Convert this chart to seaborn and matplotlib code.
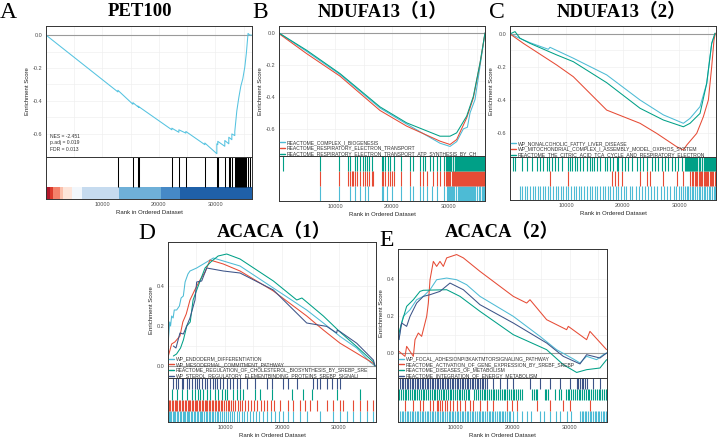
import pandas as pd
import matplotlib
matplotlib.use("Agg")
import matplotlib.pyplot as plt
import seaborn as sns

N_GENES = 36500

# ---------------- A: PET100 ----------------
a_rank = [0, 12740, 12740, 15400, 15400, 16280, 16280, 16460, 16460, 22300, 22300,
          23540, 23540, 24780, 24780, 28140, 28140, 30270, 30270, 30440, 30440,
          31680, 31680, 32390, 32390, 32930, 32930, 33450, 33450, 33810, 34160,
          34520, 34870, 35220, 35500, 35800, 36100, 36400]
a_es = [0.0, -0.345, -0.335, -0.42, -0.41, -0.435, -0.43, -0.44, -0.435, -0.575, -0.565,
        -0.59, -0.575, -0.595, -0.585, -0.665, -0.655, -0.72, -0.66, -0.665, -0.645,
        -0.675, -0.64, -0.66, -0.62, -0.635, -0.6, -0.61, -0.585, -0.46, -0.38,
        -0.31, -0.265, -0.195, -0.11, 0.01, 0.0, 0.0]
a_hits = [12740, 15400, 16280, 16460, 22300, 23540, 24780, 28140, 30270, 30440, 31680,
          32390, 32570, 32930, 33450, 33630, 33810, 33980, 34160, 34340, 34520, 34690,
          34870, 35050, 35220, 35400, 35750, 36110]
a_heat_edges = [0, 710, 1300, 2480, 2950, 4550, 6320, 12990, 20380, 23740, 36500]
a_heat_colors = ["#B2182B", "#DC3B2C", "#F4826B", "#FBC0AC", "#FDE5DA", "#F2F7FC",
                 "#C6DBEF", "#6FB0D8", "#4689C6", "#1F60A8"]
a_stats = "NES = -2.451\np.adj = 0.019\nFDR = 0.013"

# ---------------- B: NDUFA13 (1) ----------------
b_sets = ["REACTOME_COMPLEX_I_BIOGENESIS",
          "REACTOME_RESPIRATORY_ELECTRON_TRANSPORT",
          "REACTOME_RESPIRATORY_ELECTRON_TRANSPORT_ATP_SYNTHESIS_BY_CH"]
b1_rank = [0, 4900, 10810, 17900, 22620, 28530, 30300, 31480, 32670, 33380, 33850, 34730, 35620, 36500]
b1_es = [0.0, -0.115, -0.26, -0.47, -0.57, -0.69, -0.71, -0.68, -0.60, -0.59, -0.50, -0.417, -0.208, 0.0]
b2_rank = [0, 4900, 10810, 17900, 22620, 28530, 30300, 31480, 33260, 34440, 35620, 36500]
b2_es = [-0.004, -0.129, -0.27, -0.485, -0.583, -0.677, -0.698, -0.667, -0.531, -0.406, -0.19, 0.0]
b3_rank = [0, 4900, 10810, 17900, 22620, 28530, 30300, 31480, 33260, 34440, 35620, 36500]
b3_es = [0.0, -0.108, -0.254, -0.4625, -0.5625, -0.646, -0.646, -0.625, -0.52, -0.396, -0.1875, 0.0]
b1_hits = [7270, 10570, 12580, 13470, 14350, 15240, 15830, 18190, 18490, 19080, 19970, 21620,
           23210, 23690, 24990, 25460, 26170, 27060, 27940, 29240, 29700, 29900, 30100, 30300,
           30450, 30700, 30850, 31050, 31300, 31450, 31650, 31850, 32000, 32200, 32400, 32550,
           32800, 32950, 33150, 33350, 33500, 33700, 33900, 34050, 34250, 34450, 34600, 34800,
           35000, 35150, 35350, 35550, 35700, 35900, 36100, 36300]
b2_hits = [7270, 10570, 12290, 12580, 12880, 13170, 13470, 13880, 14350, 14820, 15180, 15530,
           16010, 16420, 16720, 18190, 18490, 18840, 19260, 19670, 19970, 20380, 21620, 23210,
           24990, 25460, 26170, 27350, 27940, 28530, 29240, 29650, 29850, 30000, 30200, 30350,
           30600, 30800, 30950, 31150, 31300, 31500, 31700, 31850, 32050, 32250, 32400, 32600,
           32750, 32950, 33100, 33300, 33450, 33650, 33800, 34000, 34150, 34350, 34500, 34700,
           34850, 35050, 35250, 35400, 35600, 35800, 35950, 36150, 36350]
b3_hits = [650, 7270, 10570, 12290, 12580, 13470, 13880, 14350, 14820, 15180, 15530, 16010,
           16420, 18190, 18490, 18840, 19260, 19670, 20380, 21620, 23210, 23810, 24990, 25460,
           25870, 26760, 27350, 27940, 28530, 29240, 29600, 29750, 29900, 30050, 30250, 30400,
           30550, 30750, 30900, 31100, 31250, 31400, 31600, 31800, 31950, 32100, 32300, 32450,
           32650, 32800, 33000, 33150, 33300, 33500, 33700, 33850, 34000, 34200, 34350, 34550,
           34700, 34900, 35050, 35200, 35400, 35600, 35750, 35900, 36100, 36300]

# ---------------- C: NDUFA13 (2) ----------------
c_sets = ["WP_NONALCOHOLIC_FATTY_LIVER_DISEASE",
          "WP_MITOCHONDRIAL_COMPLEX_I_ASSEMBLY_MODEL_OXPHOS_SYSTEM",
          "REACTOME_THE_CITRIC_ACID_TCA_CYCLE_AND_RESPIRATORY_ELECTRON"]
c1_rank = [0, 2360, 3540, 6790, 7090, 11220, 17130, 23040, 27170, 30720, 31900, 33670, 34850, 35740, 36330]
c1_es = [0.0, -0.036, -0.053, -0.093, -0.081, -0.147, -0.248, -0.40, -0.49, -0.541, -0.511, -0.44, -0.30, -0.057, 0.004]
c2_rank = [0, 2360, 8270, 11220, 17130, 20080, 23040, 25990, 29540, 30720, 31310, 33080, 34260,
           35150, 35740, 36150, 36390]
c2_es = [0.0, -0.057, -0.188, -0.259, -0.461, -0.501, -0.541, -0.602, -0.683, -0.703, -0.673, -0.602,
         -0.501, -0.40, -0.198, -0.036, 0.004]
c3_rank = [0, 890, 1770, 3540, 8270, 11220, 17130, 23040, 27170, 30720, 31900, 33670, 34850, 35740, 36330]
c3_es = [0.0, 0.014, -0.026, -0.057, -0.127, -0.168, -0.295, -0.45, -0.521, -0.562, -0.541, -0.481, -0.30, -0.057, 0.004]
c1_hits = [1770, 2200, 2660, 3100, 3540, 4000, 4370, 4900, 5300, 5800, 6200, 6700, 7150, 7600,
           8100, 8500, 9000, 9400, 9900, 10300, 10800, 11300, 11700, 12200, 12600, 13100, 13600,
           14100, 14500, 15000, 15400, 15900, 16400, 16900, 17300, 17800, 18200, 18700, 19200,
           19700, 20200, 20600, 21200, 21700, 22300, 22800, 23300, 23900, 24500, 25000, 25600,
           26100, 26700, 27300, 27900, 28400, 29000, 29500, 29900, 30300, 30700, 31000, 31300,
           31600, 31900, 32200, 32500, 32800, 33100, 33400, 33700, 34000, 34300, 34600, 34900,
           35200, 35500, 35800, 36100, 36300]
c2_hits = [7090, 10340, 18020, 18610, 19200, 19790, 23040, 24220, 24810, 27170, 29540, 30720,
           31900, 32200, 32450, 32700, 32950, 33150, 33400, 33600, 33850, 34050, 34300, 34500,
           34700, 34950, 35150, 35400, 35600, 35800, 36050, 36250]
c3_hits = [470, 890, 2070, 2950, 3840, 4730, 5320, 5910, 6620, 6970, 7380, 7970, 8570, 9160,
           10340, 10630, 10930, 11520, 11930, 12400, 12990, 13580, 14180, 14470, 14890, 15360,
           15950, 16830, 17250, 17720, 18310, 18900, 19200, 19790, 20380, 20970, 21560, 22450,
           23040, 23630, 24220, 25110, 25700, 26290, 26880, 27470, 28060, 28650, 29240, 29830,
           30420, 31000, 31200, 31400, 31550, 31750, 31950, 32100, 32300, 32500, 32650, 32850,
           33000, 33200, 33400, 33550, 33750, 33950, 34100, 34300, 34500, 34650, 34850, 35000,
           35200, 35400, 35550, 35750, 35950, 36100, 36300]

# ---------------- D: ACACA (1) ----------------
d_sets = ["WP_ENDODERM_DIFFERENTIATION",
          "WP_MESODERMAL_COMMITMENT_PATHWAY",
          "REACTOME_REGULATION_OF_CHOLESTEROL_BIOSYNTHESIS_BY_SREBP_SRE",
          "WP_STEROL_REGULATORY_ELEMENTBINDING_PROTEINS_SREBP_SIGNALI"]
d1_rank = [60, 300, 450, 640, 900, 1100, 1520, 2000, 2300, 2690, 3000, 3500, 3860, 5030, 6790,
           7960, 9710, 12640, 18490, 24340, 27260, 30190, 33110, 35450, 36330]
d1_es = [0.13, 0.22, 0.20, 0.25, 0.24, 0.28, 0.28, 0.30, 0.34, 0.35, 0.42, 0.46, 0.475, 0.49, 0.52,
         0.54, 0.525, 0.50, 0.39, 0.28, 0.215, 0.148, 0.09, 0.02, 0.0]
d2_rank = [60, 640, 1200, 2100, 2600, 3200, 3860, 4700, 5620, 6500, 7370, 9710, 12640, 18490,
           24340, 27260, 30190, 33110, 36040, 36330]
d2_es = [0.05, 0.11, 0.12, 0.15, 0.22, 0.26, 0.33, 0.38, 0.43, 0.47, 0.53, 0.51, 0.475, 0.375,
         0.25, 0.18, 0.114, 0.064, 0.013, 0.0]
d3_rank = [940, 1500, 2200, 2700, 3300, 3900, 4400, 5300, 6500, 7500, 8800, 10300, 12640, 18490,
           22600, 23500, 27260, 30190, 33110, 36040, 36330]
d3_es = [0.05, 0.06, 0.09, 0.13, 0.20, 0.22, 0.33, 0.40, 0.49, 0.52, 0.55, 0.56, 0.535, 0.425,
         0.33, 0.34, 0.25, 0.17, 0.097, 0.02, 0.0]
d4_rank = [940, 1400, 2100, 2700, 3860, 4740, 5030, 5910, 6790, 9710, 12640, 18490, 24340, 27850,
           29600, 29700, 30190, 33110, 36040, 36330]
d4_es = [0.10, 0.09, 0.165, 0.16, 0.24, 0.33, 0.42, 0.425, 0.49, 0.475, 0.465, 0.38, 0.215, 0.198,
         0.165, 0.18, 0.172, 0.114, 0.03, 0.0]
d1_hits = [100, 330, 580, 820, 1050, 1300, 1560, 1800, 2030, 2280, 2550, 2780, 3020, 3260, 3530,
           3770, 4020, 4260, 4530, 4780, 5030, 5300, 5540, 5800, 6050, 6330, 6600, 6870, 7130,
           7400, 7700, 7980, 8270, 8550, 8850, 9150, 9450, 9800, 10150, 10500, 10880, 11250,
           11650, 12100, 12500, 12950, 13400, 13900, 14400, 14950, 15500, 16050, 16700, 17300,
           18000, 18700, 19400, 20200, 21000, 21900, 23170, 24340, 26680, 29020, 30190, 31360,
           32530, 33700, 34870, 36040]
d2_hits = [150, 420, 640, 930, 1150, 1430, 1640, 1950, 2150, 2420, 2700, 2900, 3180, 3450, 3650,
           3900, 4180, 4400, 4700, 4920, 5150, 5450, 5660, 5900, 6180, 6450, 6640, 6930, 7150,
           7420, 7680, 7900, 8170, 8420, 8700, 8930, 9250, 9530, 9800, 10120, 10450, 10700,
           11050, 11400, 11820, 12230, 12600, 13050, 13500, 14000, 14550, 15020, 15600, 16250,
           16800, 17450, 18000, 18550, 19660, 21120, 22000, 23170, 24040, 24920, 26090, 27850,
           29020, 30190, 30770, 32530, 33700, 34870, 36040]
d3_hits = [640, 1520, 2400, 3280, 4150, 4740, 5320, 5620, 6200, 6790, 7370, 8250, 8830, 9420,
           10000, 10410, 11470, 12050, 12640, 13220, 15270, 16150, 18190, 21700, 23750, 25210,
           29600, 33700]
d4_hits = [940, 1400, 1810, 2400, 2690, 3280, 3740, 4150, 4740, 5030, 5500, 5910, 6490, 6790,
           7370, 7840, 8250, 8660, 9130, 9710, 10300, 10880, 11470, 12050, 12640, 13810, 15270,
           17320, 18190, 20240, 21120, 22580, 25510, 26090, 26680, 27850, 28730, 29600, 30190]

# ---------------- E: ACACA (2) ----------------
e_sets = ["WP_FOCAL_ADHESIONPI3KAKTMTORSIGNALING_PATHWAY",
          "REACTOME_ACTIVATION_OF_GENE_EXPRESSION_BY_SREBF_SREBP",
          "REACTOME_DISEASES_OF_METABOLISM",
          "REACTOME_INTEGRATION_OF_ENERGY_METABOLISM"]
e1_rank = [170, 470, 930, 2100, 3260, 4420, 5590, 6750, 8500, 10240, 11990, 14320, 20140, 24790,
           27700, 30610, 31780, 32940, 34690, 35850, 36430]
e1_es = [0.072, 0.144, 0.198, 0.234, 0.288, 0.306, 0.342, 0.396, 0.405, 0.396, 0.369, 0.306, 0.198,
         0.09, 0.018, -0.032, -0.054, -0.018, -0.036, -0.009, 0.0]
e2_rank = [170, 1220, 1510, 2680, 2970, 3550, 4130, 5010, 5300, 5590, 6170, 6750, 7330, 7920, 8500,
           10240, 11410, 14320, 20140, 22470, 23050, 25960, 29450, 29740, 32940, 33520, 36430]
e2_es = [0.009, -0.018, 0.036, -0.018, 0.072, 0.108, 0.09, 0.198, 0.27, 0.396, 0.495, 0.468, 0.495,
         0.468, 0.514, 0.532, 0.514, 0.441, 0.306, 0.27, 0.288, 0.18, 0.126, 0.144, 0.072, 0.117, 0.018]
e3_rank = [170, 640, 1510, 2680, 3840, 4420, 8500, 10830, 14320, 20140, 25960, 28870, 31200, 32940,
           35270, 36430]
e3_es = [0.108, 0.162, 0.252, 0.288, 0.333, 0.339, 0.342, 0.306, 0.225, 0.099, 0.018, -0.063, -0.105,
         -0.09, -0.081, -0.036]
e4_rank = [170, 640, 1510, 2100, 3260, 4420, 5590, 7330, 9080, 11410, 14320, 20140, 25960, 28870,
           31780, 32940, 35270, 36430]
e4_es = [0.072, 0.162, 0.144, 0.198, 0.27, 0.306, 0.315, 0.333, 0.378, 0.342, 0.261, 0.162, 0.054,
         -0.018, -0.059, -0.009, -0.027, 0.0]
e1_hits = [350, 620, 950, 1210, 1530, 1790, 2120, 2370, 2690, 2950, 3280, 3540, 3860, 4110, 4440,
           4690, 5020, 5310, 5570, 5900, 6160, 6480, 6730, 7060, 7320, 7650, 7900, 8230, 8490,
           8820, 9070, 9400, 9650, 9980, 10230, 10560, 10810, 11150, 11390, 11730, 11980, 12310,
           12560, 12900, 13140, 13480, 13730, 14060, 14310, 14650, 14900, 15230, 15480, 15820,
           16070, 16400, 16650, 16990, 17240, 17570, 17820, 18160, 18410, 18740, 19000, 19330,
           19600, 20140, 20720, 21600, 22500, 23300, 24800, 25500, 26500, 27600, 28300, 29500,
           30300, 31780, 32050, 32330, 32620, 32900, 33190, 33460, 33760, 34030, 34320, 34600,
           34890, 35170, 35460, 35740, 36030, 36300]
e2_hits = [1220, 2680, 3840, 4420, 5590, 6170, 6750, 7040, 7330, 7620, 8210, 8500, 9080, 9660,
           10240, 10830, 11700, 12570, 13150, 14320, 15480, 16650, 18970, 19850, 20720, 24210,
           26540, 28870, 30030, 33520]
e3_hits = [250, 560, 870, 1190, 1480, 1810, 2120, 2430, 2760, 3050, 3390, 3690, 4010, 4300, 4620,
           4950, 5240, 5580, 5870, 6210, 6500, 6830, 7140, 7450, 7790, 8080, 8420, 8700, 9040,
           9330, 9650, 9980, 10270, 10610, 10900, 11230, 11540, 11850, 12190, 12480, 13350, 13690,
           14000, 14300, 14640, 14960, 15270, 15590, 15900, 16230, 16520, 16850, 17160, 17500,
           17790, 18120, 18430, 18740, 19080, 19370, 19700, 20020, 20330, 20670, 20960, 21300,
           21610, 23420, 23730, 24040, 24360, 25600, 25910, 26240, 27400, 28150, 28470, 29300,
           29620, 29940, 30260, 30570, 30900, 31210, 31540, 31840, 32160, 32480, 32800, 33120,
           33430, 33760, 34070, 34390, 34700, 35020, 35340, 35660, 35970, 36290]
e4_hits = [350, 640, 950, 1220, 1510, 1820, 2090, 2380, 2700, 2960, 3270, 3550, 3860, 4120, 4430,
           4700, 5010, 5300, 5580, 5890, 6160, 6470, 6760, 7030, 7340, 7610, 7930, 8200, 8510,
           8780, 9090, 9360, 9670, 9940, 10250, 10530, 10840, 11110, 11420, 11690, 12000, 12280,
           12570, 12860, 13160, 13440, 13750, 14020, 14330, 14600, 14910, 15190, 15480, 16650,
           17810, 18970, 20140, 23050, 24790, 26540, 28290, 30030, 31200, 31490, 31780, 32070,
           32360, 32650, 32940, 34110, 35280]

# npg-like palette used by the figure
C_CYAN, C_RED, C_GREEN, C_NAVY = "#4DBBD5", "#E64B35", "#00A087", "#3C5488"

# ---------------- figure ----------------
sns.set_theme(style="white")
plt.rcParams["font.family"] = ["Liberation Sans", "Noto Sans CJK SC"]
W, H = 719, 438
fig = plt.figure(figsize=(W / 100, H / 100), dpi=100)

TICK_FS, LABEL_FS, LEG_FS = 4.0, 4.3, 3.6
SPINE = "#333333"
CURVE_LW = 0.75


def frac(l, t, r, b):
    return [l / W, 1 - b / H, (r - l) / W, (b - t) / H]


def style_axes(ax):
    for s in ax.spines.values():
        s.set_color(SPINE)
        s.set_linewidth(0.7)
    ax.tick_params(axis="both", labelsize=TICK_FS, colors="#4D4D4D", length=1.5,
                   width=0.5, pad=1, direction="out")


def es_axes(l, t, r, b, ylim, yticks):
    ax = fig.add_axes(frac(l, t, r, b))
    ax.set_xlim(0, N_GENES)
    ax.set_ylim(*ylim)
    ax.set_xticks([10000, 20000, 30000])
    ax.set_xticks([5000, 15000, 25000, 35000], minor=True)
    ax.set_yticks(yticks)
    ax.set_yticks([(yticks[i] + yticks[i + 1]) / 2 for i in range(len(yticks) - 1)], minor=True)
    ax.grid(True, which="both", color="#EDEDED", lw=0.4)
    ax.set_axisbelow(True)
    ax.set_xticklabels([])
    ax.set_yticklabels([f"{v:.1f}" for v in yticks])
    style_axes(ax)
    ax.tick_params(axis="x", which="both", length=0)
    ax.tick_params(axis="y", which="minor", length=0)
    ax.axhline(0, color="#9A9A9A", lw=0.8, zorder=1.5)
    return ax


def set_es_label(ax):
    ax.set_xlabel("")
    ax.set_ylabel("Enrichment Score", fontsize=LABEL_FS, labelpad=2, color="#222222")


def draw_curves(ax, names, ranks, scores, colors):
    frames = [pd.DataFrame({"rank": r, "es": e, "set": n}) for n, r, e in zip(names, ranks, scores)]
    df = pd.concat(frames, ignore_index=True)
    sns.lineplot(data=df, x="rank", y="es", hue="set", hue_order=names,
                 palette=dict(zip(names, colors)), estimator=None, sort=False,
                 lw=CURVE_LW, ax=ax, legend=True)
    handles, labels = ax.get_legend_handles_labels()
    leg = ax.legend(handles, labels, loc="lower left", bbox_to_anchor=(0.0, -0.01),
                    frameon=False, fontsize=LEG_FS, handlelength=1.0, handletextpad=0.4,
                    labelspacing=0.12, borderaxespad=0.1, borderpad=0.1)
    for t in leg.get_texts():
        t.set_color("#333333")
    for h in leg.get_lines():
        h.set_linewidth(1.0)
    set_es_label(ax)


def rug_axes(l, t, r, b, rows, colors):
    ax = fig.add_axes(frac(l, t, r, b))
    for k, (hits, col) in enumerate(zip(rows, colors)):
        ax.vlines(hits, k, k + 1, color=col, lw=0.8)
    ax.set_xlim(0, N_GENES)
    ax.set_ylim(0, len(rows))
    ax.set_yticks([])
    ax.set_xticks([10000, 20000, 30000])
    ax.set_xticklabels(["10000", "20000", "30000"])
    style_axes(ax)
    ax.set_xlabel("Rank in Ordered Dataset", fontsize=LABEL_FS, labelpad=1.5, color="#222222")
    return ax


# ---- panel A ----
axA = es_axes(46, 26, 252, 157, (-0.74, 0.055), [-0.6, -0.4, -0.2, 0.0])
sns.lineplot(x=a_rank, y=a_es, estimator=None, sort=False, color="#55C3E0", lw=CURVE_LW, ax=axA)
set_es_label(axA)
axA.text(0.02, 0.04, a_stats, transform=axA.transAxes, fontsize=LEG_FS, color="#333333",
         va="bottom", ha="left", linespacing=1.4)
axA_b = fig.add_axes(frac(46, 157, 252, 199))
axA_b.vlines(a_hits, 0.29, 1.0, color="black", lw=0.75)
lefts = a_heat_edges[:-1]
widths = [a_heat_edges[i + 1] - a_heat_edges[i] for i in range(len(lefts))]
axA_b.barh(0.145, widths, left=lefts, height=0.29, color=a_heat_colors, linewidth=0)
axA_b.set_xlim(0, N_GENES)
axA_b.set_ylim(0, 1)
axA_b.set_yticks([])
axA_b.set_xticks([10000, 20000, 30000])
axA_b.set_xticklabels(["10000", "20000", "30000"])
style_axes(axA_b)
axA_b.set_xlabel("Rank in Ordered Dataset", fontsize=LABEL_FS, labelpad=1.5, color="#222222")

# ---- panel B ----
axB = es_axes(279, 26, 485, 156, (-0.77, 0.044), [-0.6, -0.4, -0.2, 0.0])
draw_curves(axB, b_sets, [b1_rank, b2_rank, b3_rank], [b1_es, b2_es, b3_es], [C_CYAN, C_RED, C_GREEN])
rug_axes(279, 156, 485, 201, [b1_hits, b2_hits, b3_hits], [C_CYAN, C_RED, C_GREEN])

# ---- panel C ----
axC = es_axes(510, 26, 716, 157, (-0.745, 0.048), [-0.6, -0.4, -0.2, 0.0])
draw_curves(axC, c_sets, [c1_rank, c2_rank, c3_rank], [c1_es, c2_es, c3_es], [C_CYAN, C_RED, C_GREEN])
rug_axes(510, 157, 716, 200, [c1_hits, c2_hits, c3_hits], [C_CYAN, C_RED, C_GREEN])

# ---- panel D ----
axD = es_axes(168, 242, 376, 378, (-0.06, 0.62), [0.0, 0.2, 0.4])
draw_curves(axD, d_sets, [d1_rank, d2_rank, d3_rank, d4_rank], [d1_es, d2_es, d3_es, d4_es],
            [C_CYAN, C_RED, C_GREEN, C_NAVY])
rug_axes(168, 378, 376, 422, [d1_hits, d2_hits, d3_hits, d4_hits], [C_CYAN, C_RED, C_GREEN, C_NAVY])

# ---- panel E ----
axE = es_axes(398, 249, 607, 378, (-0.135, 0.562), [0.0, 0.2, 0.4])
draw_curves(axE, e_sets, [e1_rank, e2_rank, e3_rank, e4_rank], [e1_es, e2_es, e3_es, e4_es],
            [C_CYAN, C_RED, C_GREEN, C_NAVY])
rug_axes(398, 378, 607, 422, [e1_hits, e2_hits, e3_hits, e4_hits], [C_CYAN, C_RED, C_GREEN, C_NAVY])

# ---- titles and panel letters ----
serif = ["Liberation Serif", "Noto Sans CJK SC"]
titles = ["PET100", "NDUFA13（1）", "NDUFA13（2）", "ACACA（1）", "ACACA（2）"]
title_xy = [(140, 12), (383, 12), (622, 12), (274, 232), (502, 232)]
for txt, (x, y) in zip(titles, title_xy):
    fig.text(x / W, 1 - y / H, txt, ha="center", va="center", fontsize=13.5,
             fontweight="bold", family=serif, color="black")
letters = ["A", "B", "C", "D", "E"]
letter_xy = [(8, 13), (260, 13), (497, 13), (147, 233), (387, 240)]
for txt, (x, y) in zip(letters, letter_xy):
    fig.text(x / W, 1 - y / H, txt, ha="center", va="center", fontsize=17,
             family=serif, color="black")

fig.savefig("out.png", dpi=100)
